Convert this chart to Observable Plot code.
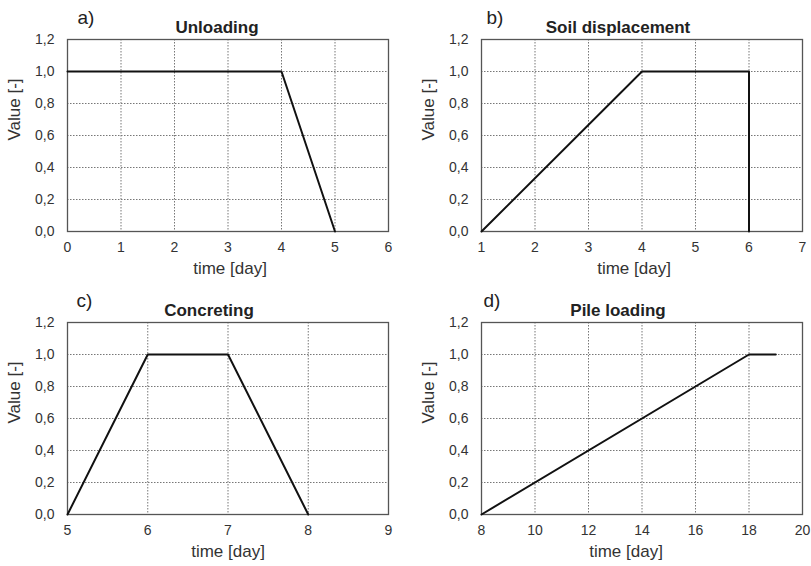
<!DOCTYPE html>
<html>
<head>
<meta charset="utf-8">
<script src="https://cdn.jsdelivr.net/npm/d3@7"></script>
<script src="https://cdn.jsdelivr.net/npm/@observablehq/plot@0.6"></script>
<style>
  html, body { margin: 0; padding: 0; background: #fff; }
  #wrap { position: relative; width: 811px; height: 566px; font-family: "Liberation Sans", Arial, sans-serif; color: #333; }
  #wrap > div { position: absolute; }
  #wrap svg g[aria-label*="tick label"] { font-size: 14px !important; }
  #wrap svg g[aria-label*="tick label"] text { font-size: 14px !important; }
</style>
</head>
<body>
<div id="wrap">
  <div id="pa" style="left:0;top:0"></div>
  <div id="pb" style="left:405px;top:0"></div>
  <div id="pc" style="left:0;top:283px"></div>
  <div id="pd" style="left:405px;top:283px"></div>
</div>
<script>
// ---- data ----
const yTicks = [0, 0.2, 0.4, 0.6, 0.8, 1.0, 1.2];

const unloadingTime  = [0, 4, 5];
const unloadingValue = [1, 1, 0];
const unloadingTicks = [0, 1, 2, 3, 4, 5, 6];

const soilTime  = [1, 4, 6, 6];
const soilValue = [0, 1, 1, 0];
const soilTicks = [1, 2, 3, 4, 5, 6, 7];

const concretingTime  = [5, 6, 7, 8];
const concretingValue = [0, 1, 1, 0];
const concretingTicks = [5, 6, 7, 8, 9];

const pileTime  = [8, 18, 19];
const pileValue = [0, 1, 1];
const pileTicks = [8, 10, 12, 14, 16, 18, 20];

const panelLetters = ["a)", "b)", "c)", "d)"];
const panelTitles  = ["Unloading", "Soil displacement", "Concreting", "Pile loading"];
const xLabel = "time [day]";
const yLabel = "Value [-]";

const fmtY = d => d.toFixed(1).replace(".", ",");
const fmtX = d => String(d);

function panel(el, times, values, ticks, letter, title, L) {
  const data = times.map((t, i) => ({t, v: values[i]}));
  const chart = Plot.plot({
    width: L.width, height: 283,
    marginLeft: L.ml, marginRight: L.mr, marginTop: 39, marginBottom: 52,
    style: {background: "transparent", fontFamily: "Liberation Sans, Arial, sans-serif", fontSize: "14px", color: "#333", overflow: "visible"},
    x: {domain: [ticks[0], ticks[ticks.length - 1]]},
    y: {domain: [0, 1.2]},
    marks: [
      Plot.gridX({ticks, stroke: "#777", strokeOpacity: 1, strokeDasharray: "1.5,1.5", strokeWidth: 1}),
      Plot.gridY({ticks: yTicks, stroke: "#777", strokeOpacity: 1, strokeDasharray: "1.5,1.5", strokeWidth: 1}),
      Plot.axisX({ticks, tickSize: 0, tickPadding: 11, tickFormat: fmtX, label: null, fontSize: 14}),
      Plot.axisY({ticks: yTicks, tickSize: 0, tickPadding: 13, tickFormat: fmtY, label: null, fontSize: 14}),
      Plot.frame({stroke: "#555", strokeWidth: 1.3}),
      Plot.line(data, {x: "t", y: "v", stroke: "#111", strokeWidth: 2}),
      Plot.text([title], {frameAnchor: "top", lineAnchor: "middle", dx: L.tdx, dy: -12, fontSize: 17, fontWeight: "bold", fill: "#222"}),
      Plot.text([letter], {frameAnchor: "top-left", lineAnchor: "middle", textAnchor: "start", dx: L.ldx, dy: -22, fontSize: 19, fill: "#222"}),
      Plot.text([xLabel], {frameAnchor: "bottom", lineAnchor: "middle", dx: L.xdx, dy: 37, fontSize: 17, fill: "#333"}),
      Plot.text([yLabel], {frameAnchor: "left", lineAnchor: "middle", rotate: -90, dx: -53, dy: 5, fontSize: 17, fill: "#333"})
    ]
  });
  document.getElementById(el).appendChild(chart);
}

panel("pa", unloadingTime, unloadingValue, unloadingTicks, panelLetters[0], panelTitles[0],
  {width: 405, ml: 67, mr: 17, tdx: -11, ldx: 10, xdx: 2});
panel("pb", soilTime, soilValue, soilTicks, panelLetters[1], panelTitles[1],
  {width: 406, ml: 76, mr: 9, tdx: -24, ldx: 5, xdx: -8});
panel("pc", concretingTime, concretingValue, concretingTicks, panelLetters[2], panelTitles[2],
  {width: 405, ml: 67, mr: 17, tdx: -19, ldx: 9, xdx: 0});
panel("pd", pileTime, pileValue, pileTicks, panelLetters[3], panelTitles[3],
  {width: 406, ml: 76, mr: 9, tdx: -24, ldx: 2, xdx: -16});
</script>
</body>
</html>
